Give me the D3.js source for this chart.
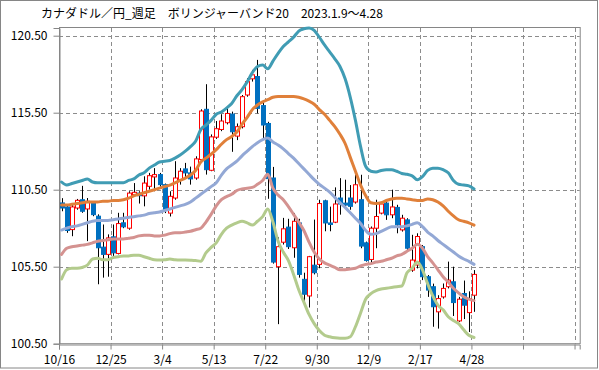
<!DOCTYPE html>
<html>
<head>
<meta charset="utf-8">
<script src="https://cdn.jsdelivr.net/npm/d3@7"></script>
<style>
  body { margin: 0; background: #fff; }
  text { font-family: "Noto Sans CJK JP", "Noto Sans", sans-serif; }
</style>
</head>
<body>
<div id="chart"></div>
<script>
// weekly CAD/JPY candles + bollinger(20) bands
var title = "カナダドル／円_週足　ボリンジャーバンド20　2023.1.9～4.28";
var tickLabels = ["10/16", "12/25", "3/4", "5/13", "7/22", "9/30", "12/9", "2/17", "4/28"];
var yTicks = [100.5, 105.5, 110.5, 115.5, 120.5];

var opens = [109.64,109.38,107.91,109.31,109.85,109.25,109.64,108.78,106.77,106.3,
  107.44,106.36,108.35,108.0,110.18,110.28,110.1,110.72,111.33,111.48,
  110.83,108.98,109.96,111.15,111.85,111.59,111.26,112.46,115.72,111.76,
  113.91,114.41,114.85,115.41,113.98,114.59,116.65,117.7,117.85,115.96,
  114.8,111.26,105.5,107.09,108.07,106.73,108.34,104.68,103.6,105.6,
  105.65,109.78,108.34,108.39,109.96,109.63,109.96,109.7,109.85,107.05,
  105.97,108.0,108.98,109.63,108.87,109.35,107.89,108.54,105.28,105.61,
  106.8,104.85,104.2,102.57,103.54,104.2,104.52,101.98,103.76,102.52,
  103.65];
var closes = [109.31,107.85,109.38,109.81,109.1,109.75,108.88,106.73,106.3,107.37,
  106.4,108.3,108.09,110.28,110.33,110.11,110.93,111.41,111.48,110.83,
  109.2,110.07,111.26,111.7,111.59,111.2,112.5,115.61,111.8,113.93,
  114.46,114.96,115.45,114.26,114.59,116.54,117.52,117.96,115.78,114.7,
  111.22,105.8,106.8,107.96,106.8,108.45,105.0,103.71,106.15,105.11,
  109.6,108.34,108.24,109.57,109.57,109.5,109.42,110.82,106.84,105.9,
  108.0,108.76,109.57,108.87,109.38,108.22,108.65,106.7,105.93,107.46,
  104.85,103.98,102.9,103.43,104.09,104.63,103.17,103.39,103.0,103.43,
  105.0];
var highs = [109.95,109.5,109.5,109.9,110.75,109.96,109.75,108.9,108.24,107.6,
  108.24,109.0,109.0,110.4,110.93,110.4,111.37,111.59,111.9,111.59,
  110.9,110.4,112.35,111.9,112.24,112.0,112.67,115.72,117.35,114.09,
  114.96,115.4,115.93,115.57,114.8,116.65,117.74,118.28,118.93,116.2,
  114.91,111.98,107.41,108.67,108.61,108.99,108.61,105.11,106.2,108.56,
  109.85,109.85,109.4,110.65,111.25,111.15,110.8,111.47,111.47,107.13,
  108.11,109.85,109.7,109.85,110.5,109.52,108.87,108.65,107.57,107.67,
  106.91,104.96,104.4,103.65,104.41,105.83,105.5,103.54,104.6,103.9,
  105.28];
var lows = [109.1,107.7,107.48,109.2,109.0,107.16,108.78,104.36,104.79,104.85,
  106.2,106.3,108.0,107.9,110.07,109.6,109.42,110.5,110.4,110.7,
  108.98,108.76,109.85,110.83,111.26,110.83,111.15,112.24,111.48,111.7,
  113.8,114.3,114.74,112.96,113.72,114.48,116.54,117.52,115.46,113.83,
  109.91,105.7,101.77,106.94,106.65,106.08,104.79,103.17,102.85,105.0,
  105.4,107.8,107.8,108.33,108.88,109.41,109.2,109.6,106.7,105.83,
  105.72,106.7,108.9,108.54,108.65,107.67,107.78,106.48,105.17,105.39,
  104.63,103.54,101.6,101.48,103.43,104.09,102.3,101.91,102.1,101.26,
  102.57];

var upper2 = [111.0,110.8,110.9,111.0,111.1,111.2,111.0,110.95,110.95,110.95,
  110.95,110.95,110.95,111.1,111.2,111.45,111.6,111.9,112.1,112.3,
  112.35,112.4,112.55,112.75,113.0,113.3,113.65,114.4,114.7,115.0,
  115.4,115.55,115.8,116.1,116.6,117.0,117.5,118.1,118.5,118.6,
  118.35,118.85,119.35,119.8,120.1,120.4,120.8,120.95,121.0,120.85,
  120.4,119.9,119.45,119.0,118.5,117.7,116.5,115.0,113.3,112.0,
  111.7,111.65,111.75,111.8,111.8,111.7,111.55,111.5,111.4,111.15,
  111.35,111.75,111.9,111.9,111.8,111.6,111.1,110.85,110.8,110.75,
  110.55];
var upper1 = [109.5,109.5,109.55,109.6,109.65,109.7,109.7,109.7,109.75,109.75,
  109.8,109.8,109.85,109.95,110.1,110.2,110.3,110.4,110.5,110.6,
  110.7,110.8,110.95,111.1,111.25,111.45,111.75,112.3,112.55,112.8,
  113.1,113.45,113.75,113.95,114.25,114.75,115.2,115.7,116.0,116.2,
  116.35,116.5,116.55,116.55,116.55,116.55,116.5,116.4,116.25,116.05,
  115.7,115.4,115.0,114.6,114.1,113.5,112.6,111.7,110.8,110.1,
  109.65,109.6,109.65,109.8,109.9,109.95,109.95,109.9,109.85,109.8,
  109.8,109.9,109.85,109.7,109.45,109.1,108.8,108.55,108.45,108.35,
  108.2];
var middle = [107.88,108.0,108.1,108.15,108.25,108.35,108.45,108.5,108.5,108.5,
  108.55,108.6,108.65,108.7,108.75,108.8,108.85,108.95,109.0,109.05,
  109.15,109.25,109.35,109.45,109.55,109.7,109.95,110.2,110.45,110.7,
  110.95,111.45,111.85,112.1,112.35,112.7,113.0,113.3,113.55,113.75,
  113.85,113.6,113.4,113.15,112.85,112.55,112.2,111.85,111.5,111.15,
  110.85,110.6,110.35,110.0,109.65,109.35,109.0,108.65,108.3,107.85,
  107.6,107.65,107.8,107.95,108.1,108.1,108.1,108.15,108.25,108.35,
  108.1,107.75,107.5,107.2,106.95,106.7,106.45,106.2,106.0,105.85,
  105.65];
var lower1 = [106.3,106.7,106.8,106.85,106.9,106.95,107.05,107.15,107.2,107.25,
  107.3,107.3,107.3,107.35,107.4,107.5,107.55,107.55,107.5,107.5,
  107.55,107.65,107.7,107.7,107.75,107.8,107.9,108.0,108.4,108.9,
  109.45,109.85,110.05,110.2,110.45,110.55,110.6,110.65,110.85,111.1,
  111.5,110.6,110.15,109.85,109.4,108.9,108.4,107.85,107.1,106.45,
  106.0,105.75,105.6,105.45,105.3,105.3,105.35,105.4,105.55,105.65,
  105.7,105.8,105.85,105.95,106.05,106.2,106.3,106.5,106.7,106.95,
  106.7,106.15,105.75,105.3,104.85,104.5,104.1,103.8,103.55,103.4,
  103.3];
var lower2 = [104.7,105.3,105.4,105.4,105.45,105.6,106.0,106.05,105.95,105.95,
  106.1,106.15,106.2,106.2,106.25,106.25,106.15,106.05,105.95,105.93,
  105.95,106.0,105.95,105.93,105.93,105.92,105.9,105.85,106.4,106.75,
  107.05,107.6,108.0,108.2,108.35,108.45,108.35,108.2,108.45,108.75,
  109.25,108.4,107.15,106.45,105.9,105.0,104.0,103.2,102.4,101.8,
  101.35,101.05,100.95,100.88,100.85,100.85,100.95,101.6,102.5,103.4,
  103.75,103.95,104.05,104.1,104.15,104.2,104.25,105.1,105.4,105.8,
  105.3,104.4,103.6,103.0,102.7,102.25,102.0,101.8,101.4,101.05,
  100.9];

var bands = [
  {name: "+2σ", values: upper2, color: "#409cb4"},
  {name: "+1σ", values: upper1, color: "#e0803a"},
  {name: "MA20", values: middle, color: "#93a8d5"},
  {name: "-1σ", values: lower1, color: "#d49290"},
  {name: "-2σ", values: lower2, color: "#b3cb8d"}
];

var svgW = 599, svgH = 370;
var plotL = 59, plotR = 579.7, plotT = 28, plotB = 343.7;
var nSlots = 101;

var x = d3.scaleLinear().domain([0, nSlots]).range([plotL, plotR]);
var y = d3.scaleLinear().domain([100.5, 121]).range([plotB, plotT]);

var svg = d3.select("#chart").append("svg")
  .attr("width", svgW)
  .attr("height", svgH);

// outer frame
svg.append("rect")
  .attr("x", 0.5).attr("y", 0.5)
  .attr("width", 597).attr("height", 367.5)
  .attr("fill", "#fff")
  .attr("stroke", "#868686");

svg.append("text")
  .attr("x", 41)
  .attr("y", 18)
  .attr("font-size", "12px")
  .attr("fill", "#000")
  .text(title);

var xTickVals = d3.range(0, nSlots, 10);

// gridlines
var grid = svg.append("g");
grid.selectAll(".hg")
  .data(yTicks.slice(1))
  .enter().append("line")
  .attr("x1", plotL).attr("x2", plotR)
  .attr("y1", function(d) { return Math.round(y(d)) + 0.5; })
  .attr("y2", function(d) { return Math.round(y(d)) + 0.5; })
  .attr("stroke", "#8c8c8c")
  .attr("stroke-dasharray", "4,3");
grid.selectAll(".vg")
  .data(xTickVals.slice(1))
  .enter().append("line")
  .attr("y1", plotT).attr("y2", plotB)
  .attr("x1", function(d) { return Math.round(x(d)) + 0.5; })
  .attr("x2", function(d) { return Math.round(x(d)) + 0.5; })
  .attr("stroke", "#8c8c8c")
  .attr("stroke-dasharray", "4,3");

// plot border
svg.append("rect")
  .attr("x", plotL + 0.5).attr("y", Math.round(plotT) - 0.5)
  .attr("width", plotR - plotL).attr("height", plotB - plotT + 0.5)
  .attr("fill", "none")
  .attr("stroke", "#868686");

// axes
var yAxis = svg.append("g")
  .attr("transform", "translate(" + (plotL + 0.5) + ",0)")
  .call(d3.axisLeft(y).tickValues(yTicks).tickFormat(d3.format(".2f")).tickSize(6).tickPadding(6));
var xAxis = svg.append("g")
  .attr("transform", "translate(0," + (Math.round(plotB) + 0.5) + ")")
  .call(d3.axisBottom(x).tickValues(xTickVals)
    .tickFormat(function(d, i) { return tickLabels[i] || ""; })
    .tickSize(5).tickPadding(6));
[yAxis, xAxis].forEach(function(a) {
  a.select(".domain").attr("stroke", "#868686");
  a.selectAll(".tick line").attr("stroke", "#868686");
  a.selectAll("text").attr("font-size", "12px").attr("fill", "#000")
    .style("font-family", '"Noto Sans CJK JP", sans-serif');
});

// candles
var cx = function(i) { return x(i + 0.5); };
var bw = 4;
var candles = svg.append("g").selectAll("g")
  .data(opens.map(function(o, i) {
    return {i: i, o: o, h: highs[i], l: lows[i], c: closes[i]};
  }))
  .enter().append("g");

candles.append("line")
  .attr("x1", function(d) { return Math.round(cx(d.i)) + 0.5; })
  .attr("x2", function(d) { return Math.round(cx(d.i)) + 0.5; })
  .attr("y1", function(d) { return y(d.h); })
  .attr("y2", function(d) { return y(d.l); })
  .attr("stroke", "#000")
  .attr("stroke-width", 1);

candles.append("rect")
  .attr("x", function(d) { return Math.round(cx(d.i)) - bw / 2 + 0.5; })
  .attr("y", function(d) { return y(Math.max(d.o, d.c)); })
  .attr("width", bw)
  .attr("height", function(d) { return Math.max(1, Math.abs(y(d.o) - y(d.c))); })
  .attr("fill", function(d) { return d.c >= d.o ? "#fff" : "#0070c0"; })
  .attr("stroke", function(d) { return d.c >= d.o ? "#ff0000" : "#0070c0"; })
  .attr("stroke-width", 1);

// bollinger lines
var line = d3.line()
  .x(function(d, i) { return cx(i); })
  .y(function(d) { return y(d); })
  .curve(d3.curveMonotoneX);

svg.append("g").selectAll("path")
  .data(bands)
  .enter().append("path")
  .attr("d", function(d) { return line(d.values); })
  .attr("fill", "none")
  .attr("stroke", function(d) { return d.color; })
  .attr("stroke-width", 3)
  .attr("stroke-linejoin", "round")
  .attr("stroke-linecap", "round");
</script>
</body>
</html>
